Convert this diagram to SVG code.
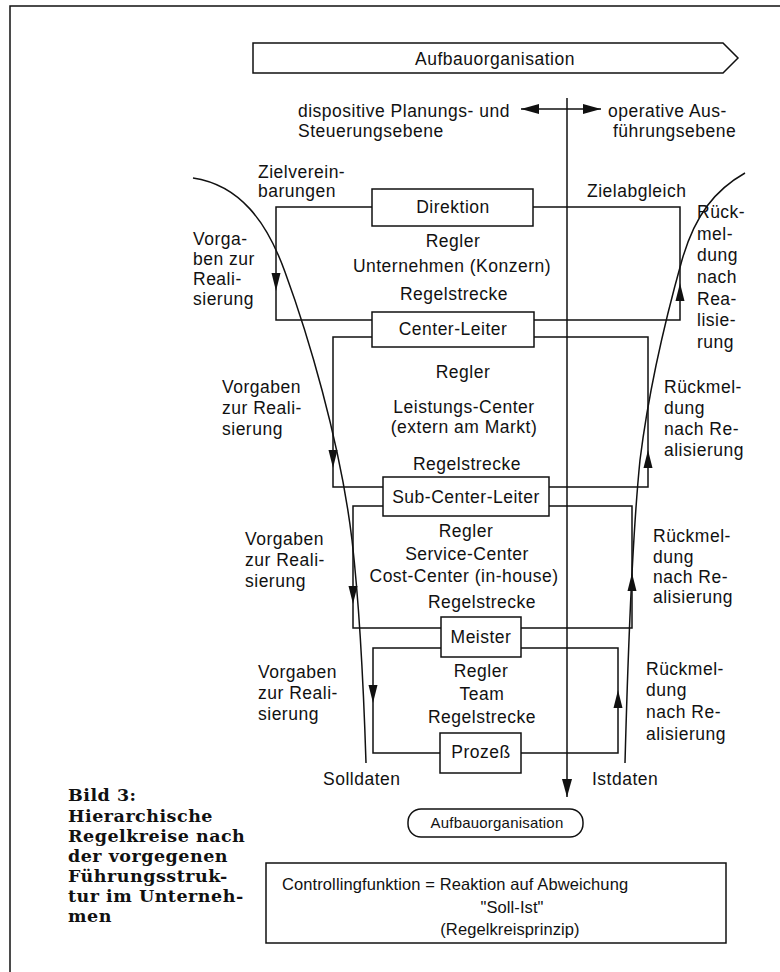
<svg xmlns="http://www.w3.org/2000/svg" width="780" height="972" viewBox="0 0 780 972">
<style>
.t{font-family:"Liberation Sans",Arial,Helvetica,sans-serif;font-size:17.5px;letter-spacing:0.5px;fill:#111}
.c{text-anchor:middle}
.box{fill:#fff;stroke:#111;stroke-width:1.5}
.ln{fill:none;stroke:#111;stroke-width:1.5}
.cap{font-family:"DejaVu Serif",Georgia,serif;font-weight:bold;font-size:17.5px;letter-spacing:0.5px;fill:#111}
</style>
<defs>
<path id="ah" d="M0,0 L-4.5,-18 L4.5,-18 Z" fill="#111"/>
<marker id="end" markerWidth="20" markerHeight="14" refX="18" refY="7" orient="auto" markerUnits="userSpaceOnUse">
<path d="M0,2 L18,7 L0,12 Z" fill="#111"/>
</marker>
<marker id="start" markerWidth="20" markerHeight="14" refX="0" refY="7" orient="auto" markerUnits="userSpaceOnUse">
<path d="M18,2 L0,7 L18,12 Z" fill="#111"/>
</marker>
</defs>
<rect width="780" height="972" fill="#fff"/>
<g id="frame">
<path class="ln" d="M10,972 V6 H780"/>
</g>
<g id="top-arrow">
<path class="box" d="M253,43 H723 L738,58 L723,73 H253 Z"/>
<text class="t c" x="495" y="65">Aufbauorganisation</text>
</g>
<g id="levels">
<text class="t" x="298" y="117">dispositive Planungs- und</text>
<text class="t" x="298" y="137">Steuerungsebene</text>
<text class="t" x="608" y="117">operative Aus-</text>
<text class="t" x="613" y="137">führungsebene</text>
</g>
<g id="connectors">
<path class="ln" d="M521,109 H601" marker-start="url(#start)" marker-end="url(#end)"/>
<path class="ln" d="M567,98 V797" marker-end="url(#end)"/>
<path class="ln" d="M372,207 H276 V320 H372"/>
<path class="ln" d="M533,207 H680 V320 H534"/>
<path class="ln" d="M372,337 H333 V487 H383"/>
<path class="ln" d="M534,337 H648 V487 H549"/>
<path class="ln" d="M383,506 H353 V628 H441"/>
<path class="ln" d="M549,506 H632 V628 H521"/>
<path class="ln" d="M441,648 H373 V753 H440"/>
<path class="ln" d="M521,648 H618 V753 H521"/>
<use href="#ah" x="276" y="291"/>
<use href="#ah" x="333" y="468"/>
<use href="#ah" x="353" y="604"/>
<use href="#ah" x="373" y="703"/>
<use href="#ah" transform="translate(680,283) rotate(180)"/>
<use href="#ah" transform="translate(648,450) rotate(180)"/>
<use href="#ah" transform="translate(632,573) rotate(180)"/>
<use href="#ah" transform="translate(618,690) rotate(180)"/>
<path class="ln" d="M193,178 C240,185 267,222 285,272 C307,332 340,440 352,540 C360,610 364,700 366,763"/>
<path class="ln" d="M745,173 C715,190 695,215 682,260 C668,310 650,380 640,460 C633,530 628,650 625,763"/>
</g>
<g id="direktion">
<rect class="box" x="372" y="189" width="161" height="37"/>
<text class="t c" x="453" y="213">Direktion</text>
</g>
<g id="level1-text">
<text class="t c" x="453" y="247">Regler</text>
<text class="t c" x="452" y="272">Unternehmen (Konzern)</text>
<text class="t c" x="454" y="300">Regelstrecke</text>
</g>
<g id="center-leiter">
<rect class="box" x="372" y="312" width="162" height="35"/>
<text class="t c" x="453" y="335">Center-Leiter</text>
</g>
<g id="level2-text">
<text class="t c" x="463" y="378">Regler</text>
<text class="t c" x="464" y="413">Leistungs-Center</text>
<text class="t c" x="464" y="433">(extern am Markt)</text>
<text class="t c" x="467" y="470">Regelstrecke</text>
</g>
<g id="sub-center-leiter">
<rect class="box" x="383" y="477" width="166" height="39"/>
<text class="t c" x="466" y="503">Sub-Center-Leiter</text>
</g>
<g id="level3-text">
<text class="t c" x="466" y="537">Regler</text>
<text class="t c" x="467" y="560">Service-Center</text>
<text class="t c" x="464" y="582">Cost-Center (in-house)</text>
<text class="t c" x="482" y="608">Regelstrecke</text>
</g>
<g id="meister">
<rect class="box" x="441" y="617" width="80" height="40"/>
<text class="t c" x="481" y="643">Meister</text>
</g>
<g id="level4-text">
<text class="t c" x="481" y="677">Regler</text>
<text class="t c" x="482" y="700">Team</text>
<text class="t c" x="482" y="723">Regelstrecke</text>
</g>
<g id="prozess">
<rect class="box" x="440" y="733" width="81" height="40"/>
<text class="t c" x="481" y="758">Prozeß</text>
</g>
<g id="left-labels">
<text class="t" x="258" y="178">Zielverein-</text>
<text class="t" x="258" y="197">barungen</text>
<text class="t" x="193" y="245">Vorga-</text>
<text class="t" x="193" y="265">ben zur</text>
<text class="t" x="193" y="285">Reali-</text>
<text class="t" x="193" y="305">sierung</text>
<text class="t" x="222" y="393">Vorgaben</text>
<text class="t" x="222" y="414">zur Reali-</text>
<text class="t" x="222" y="435">sierung</text>
<text class="t" x="245" y="545">Vorgaben</text>
<text class="t" x="245" y="566">zur Reali-</text>
<text class="t" x="245" y="587">sierung</text>
<text class="t" x="258" y="678">Vorgaben</text>
<text class="t" x="258" y="699">zur Reali-</text>
<text class="t" x="258" y="720">sierung</text>
<text class="t" x="323" y="785">Solldaten</text>
</g>
<g id="right-labels">
<text class="t" x="587" y="197">Zielabgleich</text>
<text class="t" x="697" y="218">Rück-</text>
<text class="t" x="697" y="240">mel-</text>
<text class="t" x="697" y="261">dung</text>
<text class="t" x="697" y="283">nach</text>
<text class="t" x="697" y="305">Rea-</text>
<text class="t" x="697" y="326">lisie-</text>
<text class="t" x="697" y="348">rung</text>
<text class="t" x="664" y="393">Rückmel-</text>
<text class="t" x="664" y="414">dung</text>
<text class="t" x="664" y="435">nach Re-</text>
<text class="t" x="664" y="456">alisierung</text>
<text class="t" x="653" y="542">Rückmel-</text>
<text class="t" x="653" y="563">dung</text>
<text class="t" x="653" y="583">nach Re-</text>
<text class="t" x="653" y="603">alisierung</text>
<text class="t" x="646" y="675">Rückmel-</text>
<text class="t" x="646" y="696">dung</text>
<text class="t" x="646" y="718">nach Re-</text>
<text class="t" x="646" y="740">alisierung</text>
<text class="t" x="592" y="785">Istdaten</text>
</g>
<g id="aufbau-bottom">
<rect class="box" x="408" y="809" width="175" height="28" rx="13" ry="13"/>
<text class="t c" x="497" y="828" style="font-size:15px;letter-spacing:0.2px">Aufbauorganisation</text>
</g>
<g id="controlling">
<rect class="box" x="266" y="863" width="460" height="80"/>
<text class="t" x="282" y="890" style="font-size:16.5px;letter-spacing:0.1px">Controllingfunktion = Reaktion auf Abweichung</text>
<text class="t c" x="512" y="913" style="font-size:16.5px;letter-spacing:0.1px">"Soll-Ist"</text>
<text class="t c" x="510" y="935" style="font-size:16.5px;letter-spacing:0.1px">(Regelkreisprinzip)</text>
</g>
<g id="caption">
<text class="cap" x="68" y="801">Bild 3:</text>
<text class="cap" x="68" y="822">Hierarchische</text>
<text class="cap" x="68" y="842">Regelkreise nach</text>
<text class="cap" x="68" y="862">der vorgegenen</text>
<text class="cap" x="68" y="882">Führungsstruk-</text>
<text class="cap" x="68" y="902">tur im Unterneh-</text>
<text class="cap" x="68" y="922">men</text>
</g>
</svg>
